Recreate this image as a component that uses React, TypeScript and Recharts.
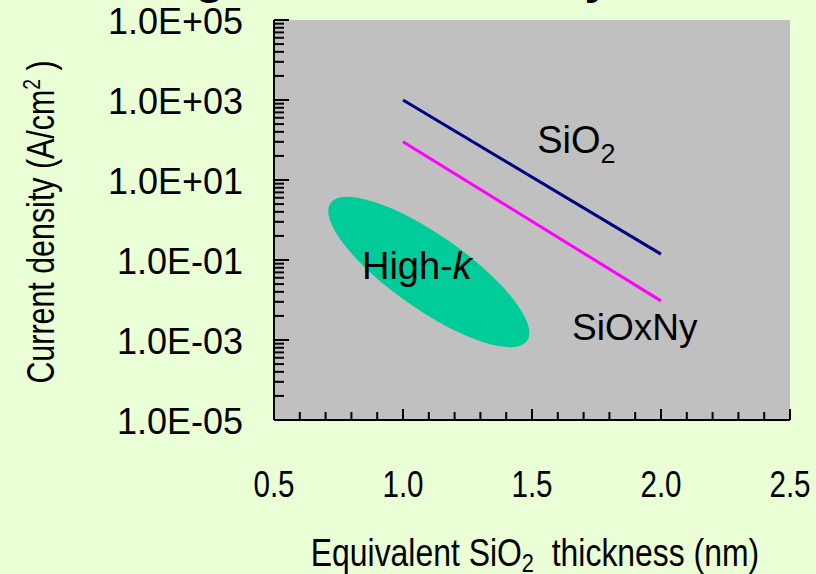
import React from 'react'
import { LineChart, Line, XAxis, YAxis, CartesianGrid, ReferenceDot } from 'recharts'

// EOT (nm) at both ends of the trend lines
const thickness = [1.0, 2.0]
// current density (A/cm2)
const sio2Current = [1000, 0.14]
const sioxnyCurrent = [90, 0.0095]

// high-k region (centre of the blob)
const highKCenter = { t: 1.1, j: 0.05 }

// label anchors (data coordinates)
const sio2LabelAt = { t: 1.52, j: 47 }
const sioxnyLabelAt = { t: 1.655, j: 0.001 }
const highKLabelAt = { t: 0.841, j: 0.0335 }

const xTicks = [
  0.5, 0.6, 0.7, 0.8, 0.9, 1.0, 1.1, 1.2, 1.3, 1.4, 1.5, 1.6, 1.7, 1.8, 1.9, 2.0, 2.1, 2.2,
  2.3, 2.4, 2.5,
]
const xMajorTicks = [0.5, 1.0, 1.5, 2.0, 2.5]
const xTickLabels = ['0.5', '1.0', '1.5', '2.0', '2.5']

const yMajorTicks = [1e-5, 1e-3, 1e-1, 1e1, 1e3, 1e5]
const yTickLabels = ['1.0E-05', '1.0E-03', '1.0E-01', '1.0E+01', '1.0E+03', '1.0E+05']
const yMinorFactors = [4, 9, 16, 25, 36, 49, 64, 81]

const sio2Data = thickness.map((t, i) => ({ t, j: sio2Current[i] }))
const sioxnyData = thickness.map((t, i) => ({ t, j: sioxnyCurrent[i] }))

const yMinorTicks = yMajorTicks.slice(0, -1).flatMap((base) => yMinorFactors.map((k) => base * k))
const yTicks = [...yMajorTicks, ...yMinorTicks].sort((a, b) => a - b)

const FONT = '"Liberation Sans", Arial, sans-serif'

const majorIndex = (list: number[], v: number) =>
  list.findIndex((m) => Math.abs(m - v) / m < 1e-6)

const YTick = (props: any) => {
  const { x, y, payload } = props
  const idx = majorIndex(yMajorTicks, payload.value)
  const len = idx >= 0 ? 15 : 10
  return (
    <g>
      <line x1={x} x2={x + len} y1={y} y2={y} stroke="#000" strokeWidth={2} />
      {idx >= 0 && (
        <text x={x - 31} y={y + 14} textAnchor="end" fontSize={36} fontFamily={FONT} fill="#000">
          {yTickLabels[idx]}
        </text>
      )}
    </g>
  )
}

const XTick = (props: any) => {
  const { x, y, payload } = props
  const idx = majorIndex(xMajorTicks, payload.value)
  const len = idx >= 0 ? 11 : 8
  return (
    <g>
      <line x1={x} x2={x} y1={y} y2={y - len} stroke="#000" strokeWidth={2} />
      {idx >= 0 && (
        <text
          transform={`translate(${x},${y + 77}) scale(0.8,1)`}
          textAnchor="middle"
          fontSize={37}
          fontFamily={FONT}
          fill="#000"
        >
          {xTickLabels[idx]}
        </text>
      )}
    </g>
  )
}

const HighKBlob = (props: any) => {
  const { cx, cy } = props
  return <ellipse cx={cx} cy={cy} rx={120} ry={37} transform={`rotate(35 ${cx} ${cy})`} fill="#00CC99" />
}

const Sio2Label = (props: any) => (
  <text x={props.cx} y={props.cy} fontSize={38} fontFamily={FONT} fill="#000">
    SiO
    <tspan fontSize={27} dy={10}>2</tspan>
  </text>
)

const SioxnyLabel = (props: any) => (
  <text x={props.cx} y={props.cy} fontSize={37} fontFamily={FONT} fill="#000">
    SiOxNy
  </text>
)

const HighKLabel = (props: any) => (
  <text x={props.cx} y={props.cy} fontSize={38} fontFamily={FONT} fill="#000">
    High-<tspan fontStyle="italic">k</tspan>
  </text>
)

export default function App() {
  return (
    <div
      style={{
        position: 'absolute',
        left: 0,
        top: 0,
        width: 816,
        height: 574,
        background: '#EAFFD5',
        overflow: 'hidden',
      }}
    >
      <LineChart width={816} height={574} margin={{ top: 20, right: 26, bottom: 0, left: 0 }}>
        <CartesianGrid fill="#C0C0C0" horizontal={false} vertical={false} />
        <XAxis
          dataKey="t"
          type="number"
          domain={[0.5, 2.5]}
          ticks={xTicks}
          interval={0}
          height={154}
          tickSize={0}
          tickMargin={0}
          tickLine={false}
          axisLine={{ stroke: '#000', strokeWidth: 2 }}
          tick={<XTick />}
          allowDataOverflow
        />
        <XAxis
          xAxisId="top"
          orientation="top"
          dataKey="t"
          type="number"
          domain={[0.5, 2.5]}
          height={0}
          tick={false}
          tickLine={false}
          axisLine={{ stroke: '#808080', strokeWidth: 1 }}
        />
        <YAxis
          type="number"
          scale="log"
          domain={[1e-5, 1e5]}
          ticks={yTicks}
          interval={0}
          width={274}
          tickSize={0}
          tickMargin={0}
          tickLine={false}
          axisLine={{ stroke: '#000', strokeWidth: 2 }}
          tick={<YTick />}
          allowDataOverflow
        />
        <YAxis
          yAxisId="right"
          orientation="right"
          type="number"
          scale="log"
          domain={[1e-5, 1e5]}
          width={0}
          tick={false}
          tickLine={false}
          axisLine={{ stroke: '#808080', strokeWidth: 1 }}
        />
        <ReferenceDot x={highKCenter.t} y={highKCenter.j} r={1} shape={HighKBlob} />
        <ReferenceDot x={highKLabelAt.t} y={highKLabelAt.j} r={1} shape={HighKLabel} />
        <ReferenceDot x={sio2LabelAt.t} y={sio2LabelAt.j} r={1} shape={Sio2Label} />
        <ReferenceDot x={sioxnyLabelAt.t} y={sioxnyLabelAt.j} r={1} shape={SioxnyLabel} />
        <Line
          data={sio2Data}
          dataKey="j"
          stroke="#000080"
          strokeWidth={3}
          dot={false}
          isAnimationActive={false}
        />
        <Line
          data={sioxnyData}
          dataKey="j"
          stroke="#FF00FF"
          strokeWidth={3}
          dot={false}
          isAnimationActive={false}
        />
      </LineChart>
      <svg
        width={816}
        height={574}
        style={{ position: 'absolute', left: 0, top: 0, pointerEvents: 'none' }}
      >
        <text x={59} y={-7} fontSize={48} fontWeight="bold" fontFamily={FONT} fill="#000">
          Leakage current density
        </text>
        <text
          transform="translate(54,222) rotate(-90) scale(0.8,1)"
          textAnchor="middle"
          fontSize={38}
          fontFamily={FONT}
          fill="#000"
          style={{ whiteSpace: 'pre' }}
        >
          Current density (A/cm
          <tspan fontSize={24} dy={-14}>2</tspan>
          <tspan dy={14}> )</tspan>
        </text>
        <text
          transform="translate(535,566) scale(0.84,1)"
          textAnchor="middle"
          fontSize={38}
          fontFamily={FONT}
          fill="#000"
          style={{ whiteSpace: 'pre' }}
        >
          Equivalent SiO
          <tspan fontSize={26} dy={6}>2</tspan>
          <tspan dy={-6}>  thickness (nm)</tspan>
        </text>
      </svg>
    </div>
  )
}
